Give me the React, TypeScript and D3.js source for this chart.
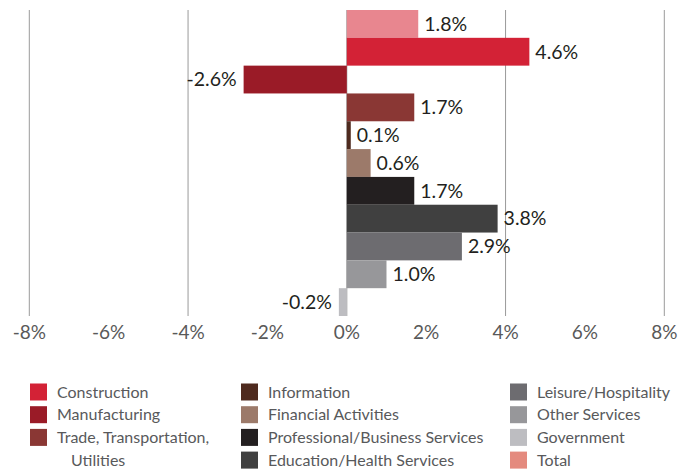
import React from "react";
import * as d3 from "d3";

const categories = [
  "Total",
  "Construction",
  "Manufacturing",
  "Trade, Transportation, Utilities",
  "Information",
  "Financial Activities",
  "Professional/Business Services",
  "Education/Health Services",
  "Leisure/Hospitality",
  "Other Services",
  "Government",
];
const values = [1.8, 4.6, -2.6, 1.7, 0.1, 0.6, 1.7, 3.8, 2.9, 1.0, -0.2];
const colors = [
  "#E8868F",
  "#D32236",
  "#9A1B27",
  "#8A3734",
  "#4E2A1E",
  "#9C7A6A",
  "#231F20",
  "#404040",
  "#6D6C70",
  "#97979A",
  "#BDBDC1",
];
const legendOrder = [
  "Construction",
  "Manufacturing",
  "Trade, Transportation, Utilities",
  "Information",
  "Financial Activities",
  "Professional/Business Services",
  "Education/Health Services",
  "Leisure/Hospitality",
  "Other Services",
  "Government",
  "Total",
];
const legendColors: Record<string, string> = { Total: "#E48A7E" };
const tickValues = [-8, -6, -4, -2, 0, 2, 4, 6, 8];
const gridValues = [-8, -4, 0, 4, 8];

const W = 693;
const H = 471;
const FONT = "Lato, 'Open Sans', sans-serif";

export default function App() {
  const x = d3.scaleLinear().domain([-8, 8]).range([29.3, 664.3]);
  const y = d3.scaleBand<string>().domain(categories).range([10, 316]).padding(0);
  const colorOf = d3.scaleOrdinal<string, string>().domain(categories).range(colors);

  const legendCols = [
    { x: 30, items: legendOrder.slice(0, 3) },
    { x: 241, items: legendOrder.slice(3, 7) },
    { x: 510, items: legendOrder.slice(7, 11) },
  ];
  const rowY = (i: number) => 392 + i * 22.7;

  return (
    <svg width={W} height={H} style={{ position: "absolute", left: 0, top: 0, background: "#fff" }}>
      {gridValues.map((g) => (
        <line key={g} x1={x(g)} x2={x(g)} y1={10} y2={316} stroke="#9A9A9A" strokeWidth={1} />
      ))}
      {categories.map((c, i) => {
        const v = values[i];
        const x0 = x(Math.min(0, v));
        const x1 = x(Math.max(0, v));
        const yy = y(c)!;
        const h = y.bandwidth();
        const label = (v < 0 ? "-" : "") + Math.abs(v).toFixed(1) + "%";
        return (
          <g key={c}>
            <rect x={x0} y={yy} width={x1 - x0} height={h} fill={colorOf(c)} />
            <text
              x={v >= 0 ? x1 + 6 : x0 - 7}
              y={yy + h / 2}
              dy="0.35em"
              textAnchor={v >= 0 ? "start" : "end"}
              fontFamily={FONT}
              fontSize={19.5}
              fill="#231F20"
            >
              {label}
            </text>
          </g>
        );
      })}
      {tickValues.map((t) => (
        <text
          key={t}
          x={x(t)}
          y={332}
          dy="0.35em"
          textAnchor="middle"
          fontFamily={FONT}
          fontSize={19}
          fill="#595959"
        >
          {t + "%"}
        </text>
      ))}
      {legendCols.map((col, ci) => {
        let row = 0;
        return (
          <g key={ci}>
            {col.items.map((item) => {
              const r = row;
              const multi = item === "Trade, Transportation, Utilities";
              row += multi ? 2 : 1;
              const fill = legendColors[item] || colorOf(item);
              return (
                <g key={item}>
                  <rect x={col.x} y={rowY(r) - 8.5} width={17} height={17} fill={fill} />
                  {multi ? (
                    <>
                      <text x={col.x + 27} y={rowY(r)} dy="0.35em" fontFamily={FONT} fontSize={16} fill="#58595B">
                        Trade, Transportation,
                      </text>
                      <text x={col.x + 41} y={rowY(r + 1)} dy="0.35em" fontFamily={FONT} fontSize={16} fill="#58595B">
                        Utilities
                      </text>
                    </>
                  ) : (
                    <text x={col.x + 27} y={rowY(r)} dy="0.35em" fontFamily={FONT} fontSize={16} fill="#58595B">
                      {item}
                    </text>
                  )}
                </g>
              );
            })}
          </g>
        );
      })}
    </svg>
  );
}
